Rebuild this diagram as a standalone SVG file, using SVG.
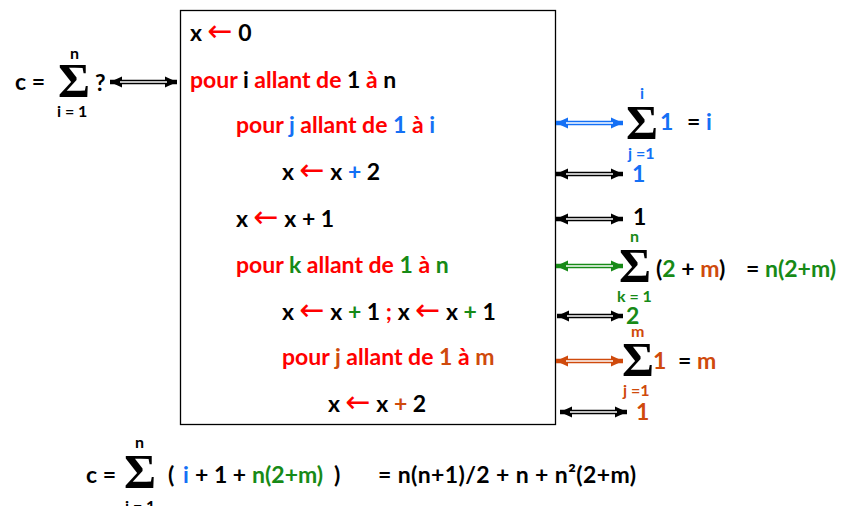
<svg xmlns="http://www.w3.org/2000/svg" width="841" height="506" viewBox="0 0 841 506">
<defs>
<style>
.t{font-family:Lato,"Liberation Sans",sans-serif;font-weight:bold;font-size:23px;fill:#000}
.s{font-family:Lato,"Liberation Sans",sans-serif;font-weight:bold;font-size:16px}
.sig{font-family:"Liberation Serif",serif;font-weight:bold;font-size:49px;fill:#000}
.ar{font-family:"DejaVu Sans",sans-serif;font-weight:normal;font-size:30px;fill:#ff0000}
.r{fill:#ff0000}.b{fill:#1470f5}.g{fill:#178a17}.o{fill:#cf4a0c}.k{fill:#000}
.sh{stroke-width:4.5;fill:none}
.in{stroke:#fff;stroke-width:1.4;fill:none}
</style>
<marker id="mk" viewBox="0 0 12 12" markerWidth="12" markerHeight="12" refX="12" refY="6" orient="auto-start-reverse" markerUnits="userSpaceOnUse"><path d="M0,0.5 L12,6 L0,11.5 z" fill="#000"/></marker>
<marker id="mb" viewBox="0 0 12 12" markerWidth="12" markerHeight="12" refX="12" refY="6" orient="auto-start-reverse" markerUnits="userSpaceOnUse"><path d="M0,0.5 L12,6 L0,11.5 z" fill="#1470f5"/></marker>
<marker id="mg" viewBox="0 0 12 12" markerWidth="12" markerHeight="12" refX="12" refY="6" orient="auto-start-reverse" markerUnits="userSpaceOnUse"><path d="M0,0.5 L12,6 L0,11.5 z" fill="#178a17"/></marker>
<marker id="mo" viewBox="0 0 12 12" markerWidth="12" markerHeight="12" refX="12" refY="6" orient="auto-start-reverse" markerUnits="userSpaceOnUse"><path d="M0,0.5 L12,6 L0,11.5 z" fill="#cf4a0c"/></marker>
</defs>
<rect width="841" height="506" fill="#fff"/>

<g id="algo-box">
<rect x="180.5" y="10.5" width="375" height="414" fill="none" stroke="#000" stroke-width="1.3"/>
<text class="t" x="190" y="41">x <tspan class="ar">←</tspan> 0</text>
<text class="t" x="190" y="88"><tspan class="r">pour </tspan>i<tspan class="r"> allant de </tspan>1<tspan class="r"> à </tspan>n</text>
<text class="t" x="236" y="133"><tspan class="r">pour </tspan><tspan class="b">j</tspan><tspan class="r"> allant de </tspan><tspan class="b">1</tspan><tspan class="r"> à </tspan><tspan class="b">i</tspan></text>
<text class="t" x="282" y="180">x <tspan class="ar">←</tspan> x <tspan class="b">+</tspan> 2</text>
<text class="t" x="236" y="227">x <tspan class="ar">←</tspan> x + 1</text>
<text class="t" x="236" y="273"><tspan class="r">pour </tspan><tspan class="g">k</tspan><tspan class="r"> allant de </tspan><tspan class="g">1</tspan><tspan class="r"> à </tspan><tspan class="g">n</tspan></text>
<text class="t" x="282" y="320">x <tspan class="ar">←</tspan> x <tspan class="g">+</tspan> 1 <tspan class="r">;</tspan> x <tspan class="ar">←</tspan> x <tspan class="g">+</tspan> 1</text>
<text class="t" x="282" y="365"><tspan class="r">pour </tspan><tspan class="o">j</tspan><tspan class="r"> allant de </tspan><tspan class="o">1</tspan><tspan class="r"> à </tspan><tspan class="o">m</tspan></text>
<text class="t" x="328" y="412">x <tspan class="ar">←</tspan> x <tspan class="o">+</tspan> 2</text>
</g>

<g id="connectors">
<line class="sh" x1="110" y1="82" x2="177" y2="82" stroke="#000" marker-start="url(#mk)" marker-end="url(#mk)"/>
<line class="in" x1="120" y1="82" x2="167" y2="82"/>
<line class="sh" x1="556" y1="123" x2="623" y2="123" stroke="#1470f5" marker-start="url(#mb)" marker-end="url(#mb)"/>
<line class="in" x1="566" y1="123" x2="613" y2="123"/>
<line class="sh" x1="556" y1="174" x2="623" y2="174" stroke="#000" marker-start="url(#mk)" marker-end="url(#mk)"/>
<line class="in" x1="566" y1="174" x2="613" y2="174"/>
<line class="sh" x1="556" y1="219" x2="623" y2="219" stroke="#000" marker-start="url(#mk)" marker-end="url(#mk)"/>
<line class="in" x1="566" y1="219" x2="613" y2="219"/>
<line class="sh" x1="556" y1="266" x2="623" y2="266" stroke="#178a17" marker-start="url(#mg)" marker-end="url(#mg)"/>
<line class="in" x1="566" y1="266" x2="613" y2="266"/>
<line class="sh" x1="557" y1="316" x2="623" y2="316" stroke="#000" marker-start="url(#mk)" marker-end="url(#mk)"/>
<line class="in" x1="567" y1="316" x2="613" y2="316"/>
<line class="sh" x1="556" y1="361" x2="623" y2="361" stroke="#cf4a0c" marker-start="url(#mo)" marker-end="url(#mo)"/>
<line class="in" x1="566" y1="361" x2="613" y2="361"/>
<line class="sh" x1="560" y1="412" x2="627" y2="412" stroke="#000" marker-start="url(#mk)" marker-end="url(#mk)"/>
<line class="in" x1="570" y1="412" x2="617" y2="412"/>
</g>

<g id="sum-left">
<text class="t" x="15" y="90">c =</text>
<text class="sig" x="58" y="97">Σ</text>
<text class="s" x="70" y="59">n</text>
<text class="t" x="95" y="91">?</text>
<text class="s" x="57" y="117">i = 1</text>
</g>

<g id="sum-j-inner">
<text class="s b" x="640" y="99">i</text>
<text class="sig" x="626" y="139">Σ</text>
<text class="s b" x="628" y="159">j =1</text>
<text class="t b" x="660" y="130">1</text>
<text class="t" x="687" y="130">= <tspan class="b">i</tspan></text>
</g>
<g id="cost-x2"><text class="t b" x="632" y="182">1</text></g>
<g id="cost-x1"><text class="t" x="633" y="225">1</text></g>

<g id="sum-k">
<text class="s g" x="630" y="242">n</text>
<text class="sig" x="619" y="282">Σ</text>
<text class="t" x="656" y="277">(<tspan class="g">2</tspan> + <tspan class="o">m</tspan>)</text>
<text class="t" x="746" y="277">= <tspan class="g">n(2+m)</tspan></text>
<text class="s g" x="617" y="302">k = 1</text>
</g>
<g id="cost-two"><text class="t g" x="626" y="324">2</text></g>

<g id="sum-j-m">
<text class="s o" x="631" y="337">m</text>
<text class="sig" x="622" y="376">Σ</text>
<text class="t o" x="653" y="369">1</text>
<text class="t" x="678" y="369">= <tspan class="o">m</tspan></text>
<text class="s o" x="623" y="396">j =1</text>
</g>
<g id="cost-last"><text class="t o" x="636" y="420">1</text></g>

<g id="sum-total">
<text class="t" x="86" y="483">c =</text>
<text class="sig" x="124" y="488">Σ</text>
<text class="s" x="135" y="448">n</text>
<text class="s" x="125" y="512">i = 1</text>
<text class="t" x="168" y="483">(</text>
<text class="t b" x="183" y="483">i</text>
<text class="t" x="195" y="483">+ 1 +</text>
<text class="t g" x="252" y="483">n(2+m)</text>
<text class="t" x="334" y="483">)</text>
<text class="t" x="378" y="483" textLength="258" lengthAdjust="spacing">= n(n+1)/2 + n + n²(2+m)</text>
</g>
</svg>
